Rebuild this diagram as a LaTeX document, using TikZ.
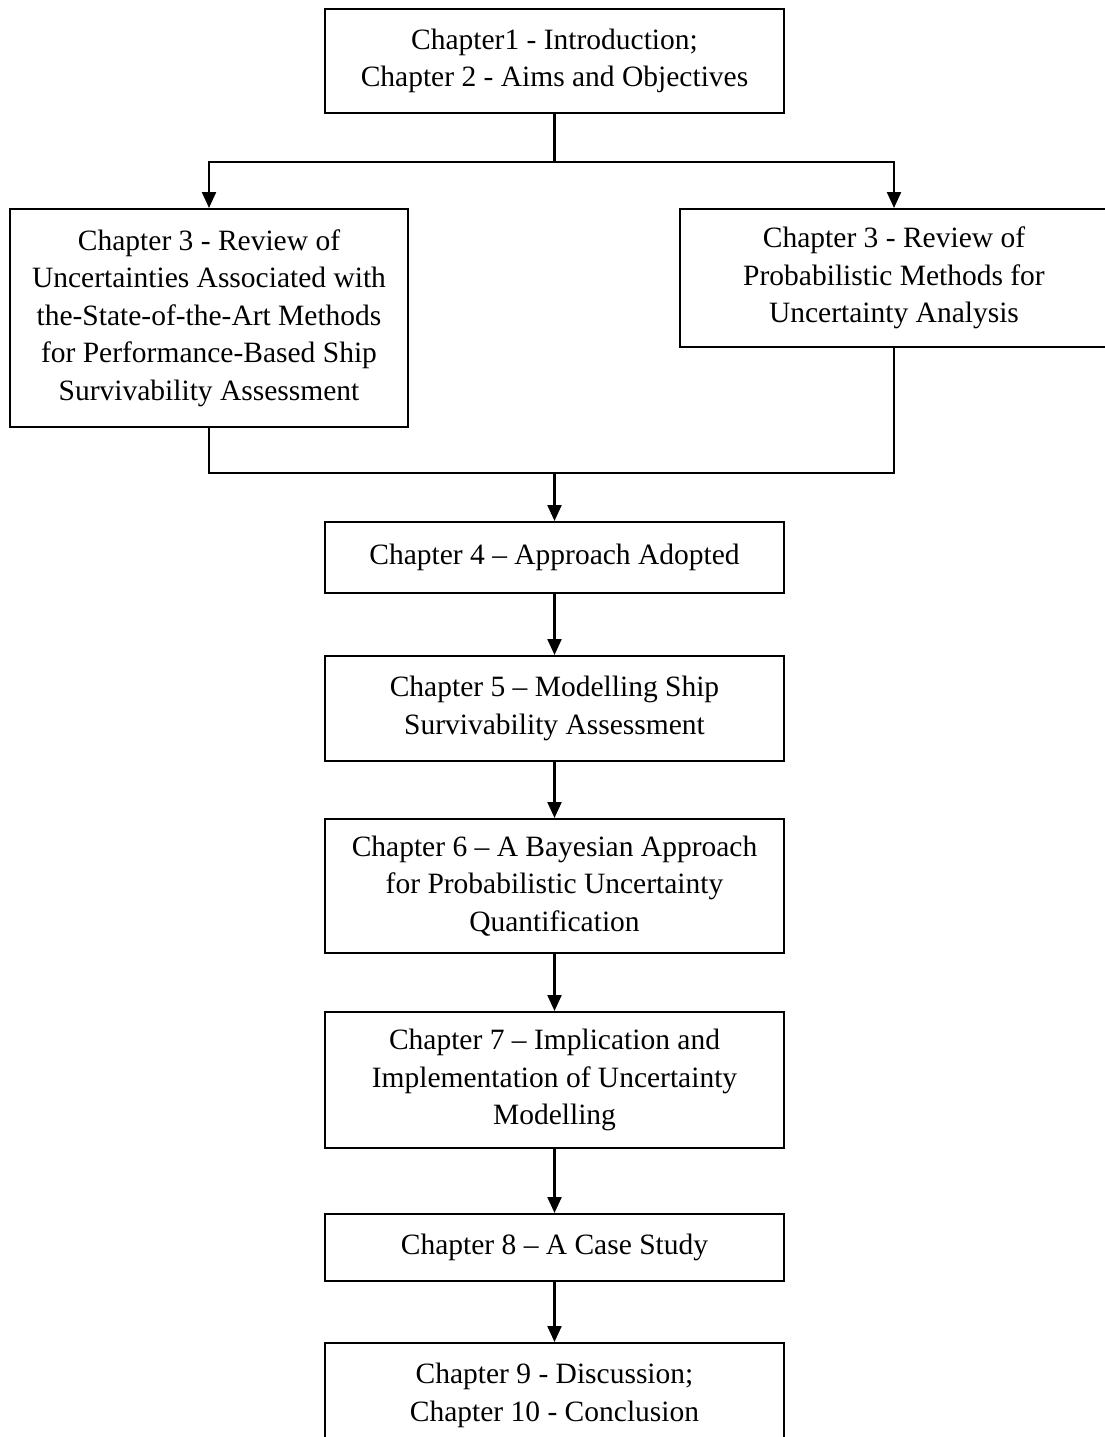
\documentclass[tikz,border=0pt]{standalone}
\usepackage{fontspec}
\setmainfont{Liberation Serif}
\usetikzlibrary{arrows.meta}
\begin{document}
\begin{tikzpicture}[x=1pt,y=-1pt,
  chapbox/.style={draw=black,line width=2pt,inner sep=0pt,align=center,
    font=\fontsize{29.5}{37.5}\selectfont},
  link/.style={line width=2.3pt},
  thinlink/.style={line width=1.8pt},
  arr/.style={link,-{Triangle[length=16pt,width=14pt]}}]
\useasboundingbox (0,0) rectangle (1105,1437);

% chapter boxes
\node[chapbox,minimum width=459pt,minimum height=104pt] (intro) at (554.5,61)
  {Chapter1 - Introduction;\\Chapter 2 - Aims and Objectives};
\node[chapbox,minimum width=398pt,minimum height=218pt] (revunc) at (209,318)
  {Chapter 3 - Review of\\Uncertainties Associated with\\the-State-of-the-Art Methods\\for Performance-Based Ship\\Survivability Assessment};
\node[chapbox,minimum width=428pt,minimum height=138pt] (revprob) at (894,278)
  {Chapter 3 - Review of\\Probabilistic Methods for\\Uncertainty Analysis};
\node[chapbox,minimum width=459pt,minimum height=71pt] (approach) at (554.5,557.5)
  {Chapter 4 – Approach Adopted};
\node[chapbox,minimum width=459pt,minimum height=105pt] (model) at (554.5,708.5)
  {Chapter 5 – Modelling Ship\\Survivability Assessment};
\node[chapbox,minimum width=459pt,minimum height=134pt] (bayes) at (554.5,886)
  {Chapter 6 – A Bayesian Approach\\for Probabilistic Uncertainty\\Quantification};
\node[chapbox,minimum width=459pt,minimum height=136pt] (implic) at (554.5,1080)
  {Chapter 7 – Implication and\\Implementation of Uncertainty\\Modelling};
\node[chapbox,minimum width=459pt,minimum height=67pt] (casestudy) at (554.5,1247.5)
  {Chapter 8 – A Case Study};
\node[chapbox,minimum width=459pt,minimum height=105pt] (concl) at (554.5,1395.5)
  {Chapter 9 - Discussion;\\Chapter 10 - Conclusion};

% branching and merging points
\coordinate (split) at (554.5,162);
\coordinate (merge) at (554.5,473);

% connectors
\draw[link] (intro.south) -- (split);
\draw[arr] (split) -| (revunc.north);
\draw[arr] (split) -| (revprob.north);
\draw[thinlink] (revunc.south) |- (merge) -| (revprob.south);
\draw[arr] (merge) -- (approach.north);
\draw[arr] (approach.south) -- (model.north);
\draw[arr] (model.south) -- (bayes.north);
\draw[arr] (bayes.south) -- (implic.north);
\draw[arr] (implic.south) -- (casestudy.north);
\draw[arr] (casestudy.south) -- (concl.north);
\end{tikzpicture}
\end{document}
